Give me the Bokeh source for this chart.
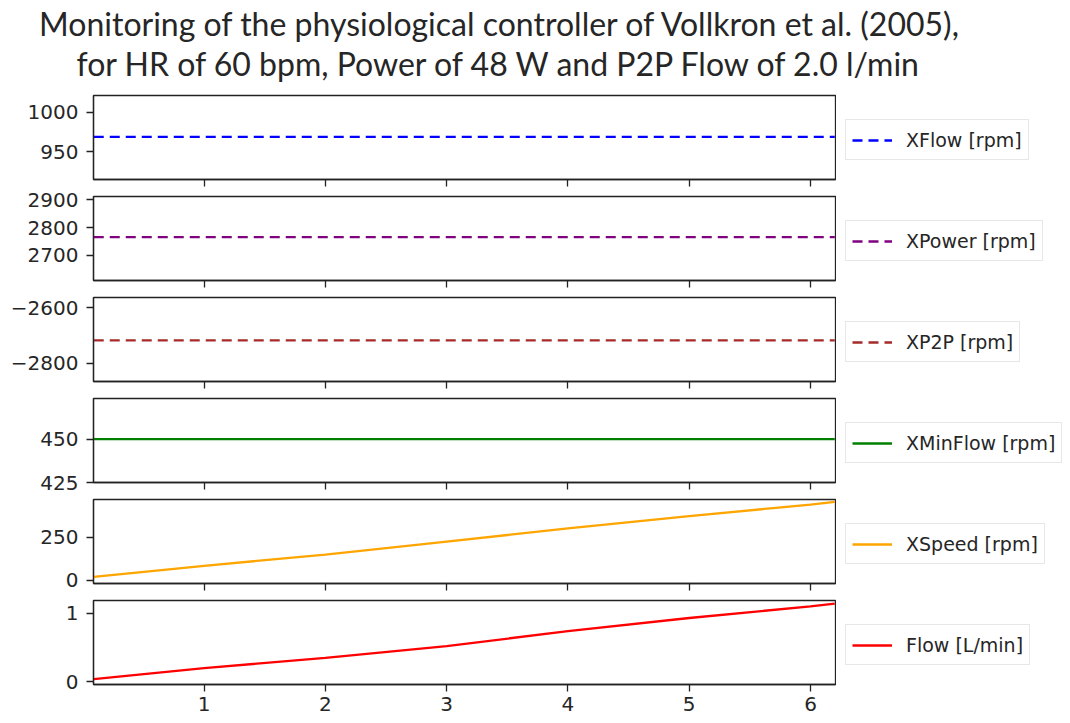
from bokeh.plotting import figure
from bokeh.models import Range1d, FixedTicker, Legend, LegendItem, Label, CustomJSTickFormatter, ColumnDataSource
from bokeh.layouts import column, row
from bokeh.embed import file_html
from bokeh.resources import INLINE

# ---- data ----
time_min = [0.09, 1.0, 2.0, 3.0, 4.0, 5.0, 6.0, 6.2]
xflow_rpm = [968.5, 968.5, 968.5, 968.5, 968.5, 968.5, 968.5, 968.5]
xpower_rpm = [2766, 2766, 2766, 2766, 2766, 2766, 2766, 2766]
xp2p_rpm = [-2718, -2718, -2718, -2718, -2718, -2718, -2718, -2718]
xminflow_rpm = [450, 450, 450, 450, 450, 450, 450, 450]
xspeed_rpm = [19, 84, 150, 226, 303, 375, 443, 458]
flow_lmin = [0.04, 0.20, 0.35, 0.52, 0.74, 0.93, 1.10, 1.14]

labels = ["XFlow [rpm]", "XPower [rpm]", "XP2P [rpm]", "XMinFlow [rpm]", "XSpeed [rpm]", "Flow [L/min]"]
series = [xflow_rpm, xpower_rpm, xp2p_rpm, xminflow_rpm, xspeed_rpm, flow_lmin]
colors = ["#0000ff", "#800080", "#a52a2a", "#008000", "#ffa500", "#ff0000"]
dashes = ["10 6", "10 6", "10 6", "solid", "solid", "solid"]
y_limits = [(914.4, 1021.2), (2610, 2912), (-2866, -2564), (425, 473.5), (-19.5, 472.5), (-0.038, 1.185)]
y_ticks = [[950, 1000], [2700, 2800, 2900], [-2800, -2600], [425, 450], [0, 250], [0, 1]]
x_ticks = [1, 2, 3, 4, 5, 6]
x_limits = (0.088, 6.206)
title_lines = ["Monitoring of the physiological controller of Vollkron et al. (2005),",
               "for HR of 60 bpm, Power of 48 W and P2P Flow of 2.0 l/min"]

TICK_FONT = "DejaVu Sans"
TXT = "#262626"
FRAME_W, FRAME_H = 742, 84
LEFT = 93
DATA_W = LEFT + FRAME_W + 1
LEG_W = 233
# (top, bottom) border of each stacked panel, so that edge tick labels are not cut
borders = [(9, 8), (9, 8), (9, 8), (9, 13), (4, 10), (7, 36)]
TITLE_H = 95 - borders[0][0]

xr = Range1d(*x_limits)

# ---- title area ----
tp = figure(width=1000, height=TITLE_H, x_range=Range1d(0, 1000), y_range=Range1d(0, TITLE_H),
            x_axis_type=None, y_axis_type=None, min_border=0, outline_line_color=None,
            toolbar_location=None, output_backend="svg")
for txt, yb in ((title_lines[0], TITLE_H - 35 + 12), (title_lines[1], TITLE_H - 75 + 12)):
    tp.add_layout(Label(x=500, y=yb, x_units="screen", y_units="screen", text=txt,
                        text_align="center", text_baseline="alphabetic",
                        text_font="Lato", text_font_size="32px", text_color="#262626"))

rows = [tp]
n = len(series)
for i in range(n):
    last = i == n - 1
    top, bottom = borders[i]
    H = top + FRAME_H + bottom
    p = figure(width=DATA_W, height=H, x_range=xr, y_range=Range1d(*y_limits[i]),
               output_backend="svg", toolbar_location=None,
               min_border_left=LEFT, min_border_right=1, min_border_top=top, min_border_bottom=bottom)
    src = ColumnDataSource(dict(t=time_min, v=series[i]))
    p.line("t", "v", source=src, line_color=colors[i], line_width=2.3, line_dash=dashes[i])
    p.xgrid.visible = False
    p.ygrid.visible = False
    p.outline_line_color = "#222222"
    p.outline_line_width = 1.3
    for ax in (p.xaxis[0], p.yaxis[0]):
        ax.axis_line_color = "#222222"
        ax.axis_line_width = 1.3
        ax.major_tick_line_color = "#222222"
        ax.major_tick_line_width = 1.3
        ax.major_tick_in = 0
        ax.major_tick_out = 7
        ax.minor_tick_line_color = None
        ax.major_label_text_font = TICK_FONT
        ax.major_label_text_font_size = "20px"
        ax.major_label_text_color = TXT
    p.xaxis[0].ticker = FixedTicker(ticks=x_ticks)
    p.yaxis[0].ticker = FixedTicker(ticks=y_ticks[i])
    p.yaxis[0].major_label_standoff = 8
    p.yaxis[0].formatter = CustomJSTickFormatter(
        code="return tick < 0 ? '\u2212' + Math.abs(tick) : String(tick);")
    if last:
        p.xaxis[0].major_label_standoff = 5
    else:
        p.xaxis[0].major_label_text_font_size = "1px"
        p.xaxis[0].major_label_text_color = None
        p.xaxis[0].major_label_standoff = 0

    # legend panel to the right (its own small plot; sample line kept off-range)
    lp = figure(width=LEG_W, height=H, x_range=Range1d(-100, -99), y_range=Range1d(-100, -99),
                x_axis_type=None, y_axis_type=None, min_border=0, outline_line_color=None,
                toolbar_location=None, output_backend="svg")
    lr = lp.line("t", "v", source=src, line_color=colors[i], line_width=2.3, line_dash=dashes[i])
    leg = Legend(items=[LegendItem(label=labels[i], renderers=[lr])], location=(9, 19),
                 label_text_font=TICK_FONT, label_text_font_size="19px", label_text_color=TXT,
                 glyph_width=40, glyph_height=20, label_standoff=14, padding=6, margin=0,
                 label_height=27, border_line_color="#d0d0d0", border_line_width=1,
                 background_fill_color="white", background_fill_alpha=1.0)
    lp.add_layout(leg, "center")
    rows.append(row(p, lp, spacing=0))

layout = column(*rows, spacing=0)
open("out.html", "w").write(file_html(layout, INLINE))
